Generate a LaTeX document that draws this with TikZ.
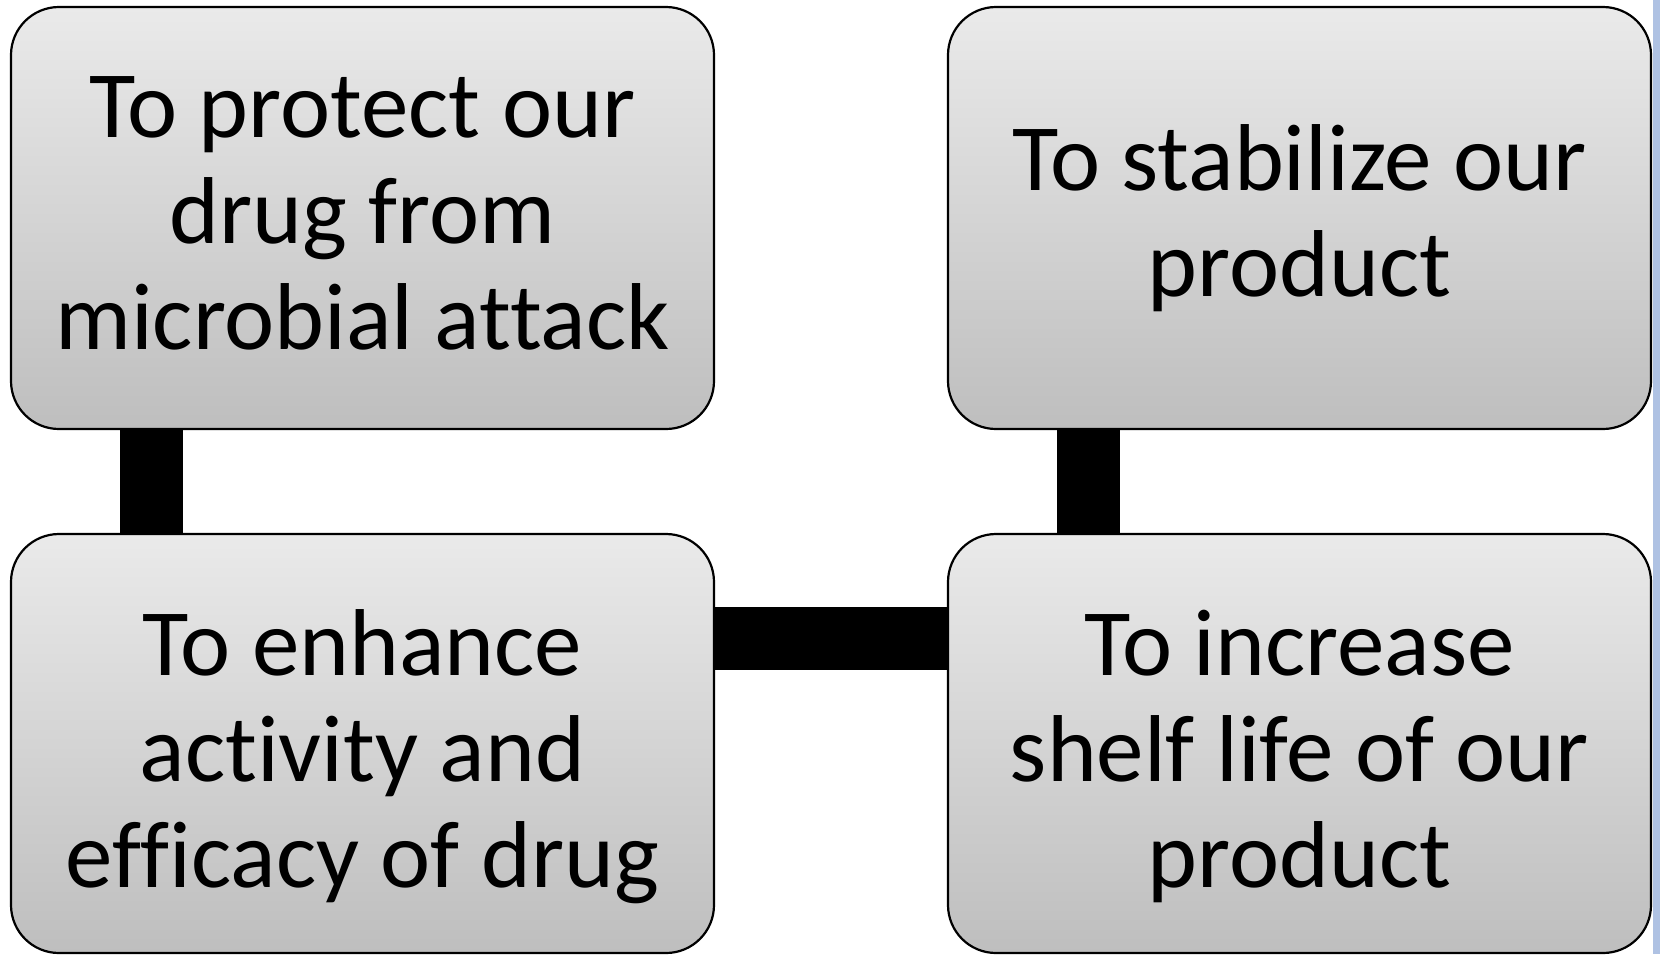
\documentclass[tikz,border=0pt]{standalone}
\usepackage{fontspec}
\setmainfont{Carlito}[Ligatures=NoCommon]
\definecolor{boxtop}{HTML}{EAEAEA}
\definecolor{boxbot}{HTML}{BEBEBE}
\definecolor{sidebar}{HTML}{AFC2E3}
\begin{document}
\begin{tikzpicture}[x=1pt,y=-1pt,
  box/.style={draw=black, line width=2.2pt, rounded corners=48pt,
    top color=boxtop, bottom color=boxbot, inner sep=0pt,
    minimum width=703pt},
  txt/.style={align=center, inner sep=0pt,
    font=\fontsize{95}{106}\selectfont},
  conn/.style={draw=black, line width=63pt}]
\useasboundingbox (0,0) rectangle (1660,954);
\fill[white] (0,0) rectangle (1660,954);
\fill[sidebar] (1653,0) rectangle (1660,954);
\node[box, minimum height=422pt] (tl) at (362.5,218) {};
\node[box, minimum height=422pt] (tr) at (1299.5,218) {};
\node[box, minimum height=419pt] (bl) at (362.5,743.5) {};
\node[box, minimum height=419pt] (br) at (1299.5,743.5) {};
\node[txt] (tltext) at ([yshift=5pt]tl.center) {To protect our\\drug from\\microbial attack};
\node[txt] (trtext) at (tr.center) {To stabilize our\\product};
\node[txt] (bltext) at ([yshift=-13pt]bl.center) {To enhance\\activity and\\efficacy of drug};
\node[txt] (brtext) at ([yshift=-13pt]br.center) {To increase\\shelf life of our\\product};
\draw[conn] ([xshift=142pt]tl.south west) -- ([xshift=142pt]bl.north west);
\draw[conn] ([xshift=141.5pt]tr.south west) -- ([xshift=141.5pt]br.north west);
\draw[conn] ([yshift=105.5pt]bl.east) -- ([yshift=105.5pt]br.west);
\end{tikzpicture}
\end{document}
